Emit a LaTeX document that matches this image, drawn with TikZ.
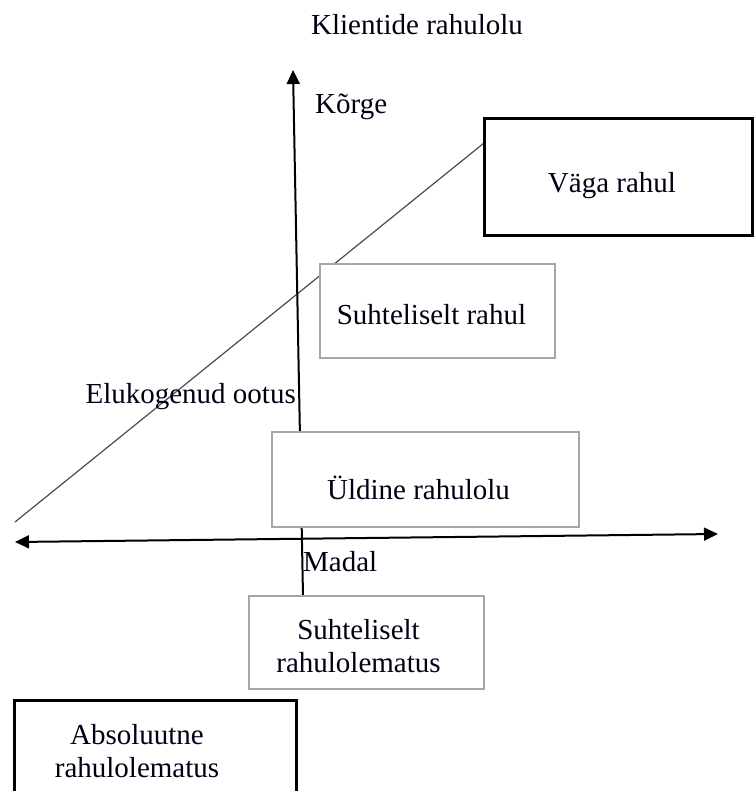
\documentclass[tikz,border=0pt]{standalone}
\usepackage{fontspec}
\setmainfont{Liberation Serif}
\usetikzlibrary{arrows.meta}
\tikzset{
  blackbox/.style={draw=black, line width=3pt, fill=white, rectangle, inner sep=0pt},
  graybox/.style={draw=black!35, line width=2pt, fill=white, rectangle, inner sep=0pt},
  axisline/.style={line width=2pt, black},
  tip/.style={-{Triangle[length=14pt,width=13pt]}},
  lbl/.style={inner sep=0pt, text=black!92!blue, align=center},
}
\begin{document}
\begin{tikzpicture}[x=1pt,y=-1pt,font=\fontsize{29}{33}\selectfont]
\useasboundingbox[fill=white] (0,0) rectangle (754,791);
% coordinates
\coordinate (vbot) at (303,596);
\coordinate (vtop) at (293,70);
\coordinate (hleft) at (15,542);
\coordinate (hright) at (718,534);
\coordinate (d0) at (15,522);
\coordinate (d1) at (484,143);
% diagonal and axes
\draw[black!70, line width=1.2pt] (d0) -- (d1);
\draw[axisline, tip] (vbot) -- (vtop);
\draw[axisline, {Triangle[length=14pt,width=13pt]}-{Triangle[length=14pt,width=13pt]}] (hleft) -- (hright);
% boxes
\node[blackbox, minimum width=268pt, minimum height=117pt] (vaga) at (618,177.5) {};
\node[graybox, minimum width=235pt, minimum height=94pt] (srahul) at (437.5,311) {};
\node[graybox, minimum width=307pt, minimum height=95pt] (uldine) at (425.5,479.5) {};
\node[graybox, minimum width=235pt, minimum height=93pt] (srm) at (366.5,642.5) {};
\node[blackbox, minimum width=282pt, minimum height=140pt] (abs) at (155,770) {};
% box texts
\node[lbl] (vagatext) at ([shift={(-6,8)}]vaga.center) {Väga rahul};
\node[lbl] (srahultext) at ([shift={(-6,4)}]srahul.center) {Suhteliselt rahul};
\node[lbl] (uldinetext) at ([shift={(-7,8)}]uldine.center) {Üldine rahulolu};
\node[lbl] (srmtext) at ([shift={(-8,4)}]srm.center) {Suhteliselt\\rahulolematus};
\node[lbl] (abstext) at (137,751) {Absoluutne\\rahulolematus};
% labels
\node[lbl] (title) at (417,25) {Klientide rahulolu};
\node[lbl, anchor=west] (korge) at (315,107) {Kõrge};
\node[lbl, anchor=east] (ootus) at (296,397) {Elukogenud ootus};
\node[lbl, anchor=west] (madal) at (303,562) {Madal};
\end{tikzpicture}
\end{document}
